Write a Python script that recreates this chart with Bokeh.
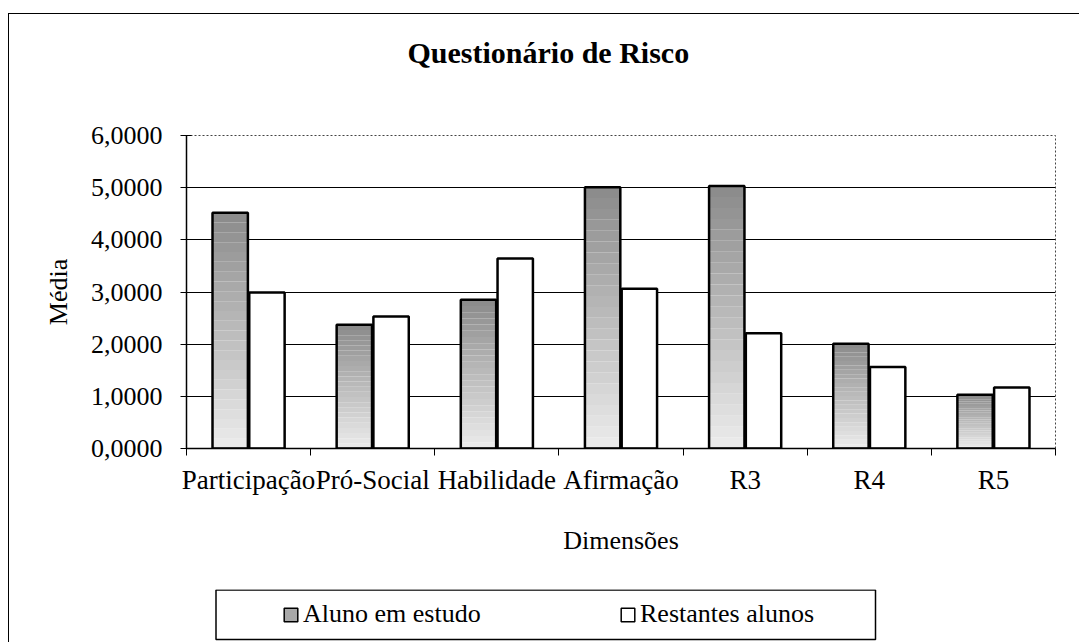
from bokeh.plotting import figure
from bokeh.models import FixedTicker, Legend, LegendItem, LinearAxis, BoxAnnotation
from bokeh.layouts import column
from bokeh.embed import file_html
from bokeh.resources import INLINE

# ---- data ----
categories = ["Participação", "Pró-Social", "Habilidade", "Afirmação", "R3", "R4", "R5"]
aluno = [4.52, 2.37, 2.85, 5.01, 5.03, 2.01, 1.03]
restantes = [2.99, 2.53, 3.64, 3.06, 2.21, 1.56, 1.17]
y_ticks = [0, 1, 2, 3, 4, 5, 6]
y_labels = ["0,0000", "1,0000", "2,0000", "3,0000", "4,0000", "5,0000", "6,0000"]
series_names = ["Aluno em estudo", "Restantes alunos"]
title_text = "Questionário de Risco"
x_title = "Dimensões"
y_title = "Média"

FONT = "Liberation Serif"
n = len(categories)
centers = [i + 0.5 for i in range(n)]
off = 0.148
bw = 0.285

p = figure(width=1070, height=575, x_range=(0, n), y_range=(0, 6),
           output_backend="svg", toolbar_location=None,
           min_border_left=177, min_border_top=121, min_border_right=24, min_border_bottom=141)
p.background_fill_color = "white"
p.border_fill_color = "white"
p.outline_line_color = "#444444"
p.outline_line_dash = "2 2"
p.outline_line_width = 1

xa = p.below[0]
ya = p.left[0]

# invisible spacer between title and plot area
spacer = LinearAxis(ticker=FixedTicker(ticks=[centers[0]]), major_tick_out=62, major_tick_in=0,
                    major_label_standoff=0, major_label_overrides={centers[0]: ""},
                    major_label_text_font_size="1px", axis_line_color=None,
                    major_tick_line_color=None, minor_tick_line_color=None,
                    minor_tick_out=0, minor_tick_in=0)
p.add_layout(spacer, "above")

# title
p.title.text = title_text
p.title.align = "left"
p.title.text_font = FONT
p.title.text_font_size = "30px"
p.title.text_font_style = "bold"
p.title.text_color = "black"
p.title.offset = 221
p.title.standoff = 10

# grid
p.xgrid.grid_line_color = None
p.ygrid.ticker = FixedTicker(ticks=[1, 2, 3, 4, 5])
p.ygrid.grid_line_color = "black"
p.ygrid.grid_line_width = 1

# y axis
ya.ticker = FixedTicker(ticks=y_ticks)
ya.major_label_overrides = {t: l for t, l in zip(y_ticks, y_labels)}
ya.major_label_text_font = FONT
ya.major_label_text_font_size = "26px"
ya.major_label_text_color = "black"
ya.major_tick_in = 5
ya.major_tick_out = 6
ya.major_label_standoff = 18
ya.minor_tick_line_color = None
ya.axis_line_color = "black"
ya.axis_line_width = 1.5
ya.major_tick_line_color = "black"
ya.axis_label = y_title
ya.axis_label_text_font = FONT
ya.axis_label_text_font_size = "26px"
ya.axis_label_text_font_style = "normal"
ya.axis_label_text_color = "black"
ya.axis_label_standoff = 15

# x axis
xa.ticker = FixedTicker(ticks=centers, minor_ticks=list(range(n + 1)))
xa.major_label_overrides = {c: cat for c, cat in zip(centers, categories)}
xa.major_label_text_font = FONT
xa.major_label_text_font_size = "27px"
xa.major_label_text_color = "black"
xa.major_tick_line_color = None
xa.major_tick_in = 0
xa.major_tick_out = 0
xa.minor_tick_line_color = "black"
xa.minor_tick_in = 0
xa.minor_tick_out = 7
xa.major_label_standoff = 9
xa.axis_line_color = "black"
xa.axis_line_width = 1.5
xa.axis_label = x_title
xa.axis_label_text_font = FONT
xa.axis_label_text_font_size = "26px"
xa.axis_label_text_font_style = "normal"
xa.axis_label_text_color = "black"
xa.axis_label_standoff = 28

# gradient bands for the "Aluno em estudo" bars (dark on top, light at bottom)
NB = 24
def shade(k):
    t = k / (NB - 1)
    g = int(round(234 - (234 - 140) * t))
    return "#%02x%02x%02x" % (g, g, g)

bl, br, bb, bt, bc = [], [], [], [], []
for c, v in zip(centers, aluno):
    for k in range(NB):
        bl.append(c - off - bw / 2)
        br.append(c - off + bw / 2)
        bb.append(v * k / NB)
        bt.append(v * (k + 1) / NB)
        bc.append(shade(k))
p.quad(left=bl, right=br, bottom=bb, top=bt, fill_color=bc, line_color=None)

gray_x = [c - off for c in centers]
white_x = [c + off for c in centers]
p.vbar(x=gray_x, top=aluno, width=bw, fill_color=None, line_color="black", line_width=2.5)
p.vbar(x=white_x, top=restantes, width=bw, fill_color="white", line_color="black", line_width=2.5)

# ---- legend strip (pixel-like ranges, same side borders as the chart) ----
pl = figure(width=1070, height=53, x_range=(0, 869), y_range=(0, 53),
            output_backend="svg", toolbar_location=None,
            x_axis_location=None, y_axis_location=None,
            min_border_left=177, min_border_right=24, min_border_top=0, min_border_bottom=0)
pl.grid.visible = False
pl.background_fill_color = "white"
pl.border_fill_color = "white"
pl.outline_line_color = None
pl.add_layout(BoxAnnotation(left=29.5, right=689, bottom=3, top=52.5,
                            fill_color=None, fill_alpha=0,
                            line_color="black", line_alpha=1.0, line_width=1.5))
# zero-size key glyphs (only their legend swatches are seen)
r_gray = pl.vbar(x=[0], top=[0], bottom=0, width=0, fill_color="#a8a8a8",
                 line_color="black", line_width=1.5)
r_white = pl.vbar(x=[0], top=[0], bottom=0, width=0, fill_color="white",
                  line_color="black", line_width=1.5)
legend = Legend(items=[
    LegendItem(label=series_names[0], renderers=[r_gray]),
    LegendItem(label=series_names[1], renderers=[r_white]),
], orientation="horizontal", location=(96, 13))
legend.label_text_font = FONT
legend.label_text_font_size = "26px"
legend.label_text_font_style = "normal"
legend.label_text_color = "black"
legend.glyph_width = 17
legend.glyph_height = 17
legend.label_standoff = 4
legend.label_width = 316
legend.spacing = 0
legend.padding = 0
legend.margin = 0
legend.border_line_color = None
legend.background_fill_alpha = 0
pl.add_layout(legend, "center")

layout = column(p, pl, spacing=0)
layout.margin = (13, 0, 0, 8)
layout.styles = {"border-left": "1.5px solid black", "border-top": "1.5px solid black"}

open("out.html", "w").write(file_html(layout, INLINE))
